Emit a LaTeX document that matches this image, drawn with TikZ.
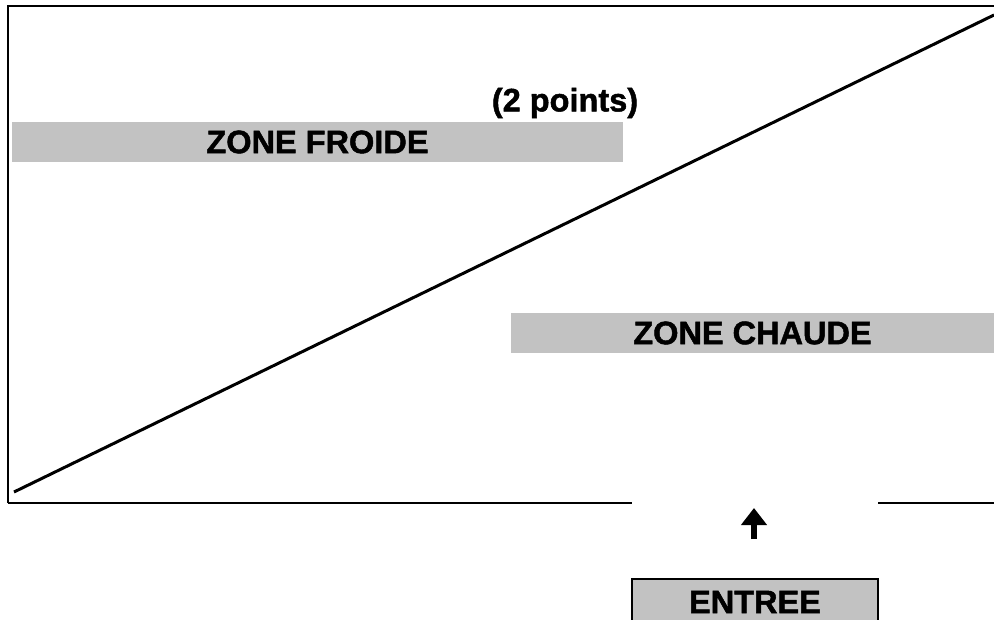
\documentclass[tikz,border=0pt]{standalone}
\usepackage{fontspec}
\setmainfont{Liberation Sans}[BoldFeatures={FakeBold=1.5}]
\usetikzlibrary{arrows.meta}
\tikzset{>={Triangle[width=25pt,length=17pt]}}
\tikzset{
    wall/.style={line width=2.6pt},
    zone/.style={fill=black!24, inner sep=0pt, minimum height=40pt,
        font=\bfseries\fontsize{32.5}{36}\selectfont},
}
\newcommand{\corner}[3]{
    \coordinate (#1) at (#2,#3);
}

\begin{document}
\begin{tikzpicture}[x=1pt,y=-1pt]
            \clip (0,0) rectangle (994,620);
            \fill[white] (0,0) rectangle (994,620);
            \corner {tl} {8} {6}
            \corner {tr} {994} {6}
            \corner {bl} {8} {503}
            \corner {gapl} {632} {503}
            \corner {gapr} {878} {503}
            \corner {br} {994} {503}
            \corner {diaga} {14} {492}
            \corner {diagb} {994} {15}
            \corner {arrowtail} {754} {539}
            \corner {arrowhead} {754} {508}
            \node[zone, minimum width=611pt] (froide) at (317.5,142) {ZONE FROIDE};
            \node[zone, minimum width=483pt] (chaude) at (752.5,333) {ZONE CHAUDE};
            \node[font=\bfseries\fontsize{32.5}{36}\selectfont] (points) at (565,103) {(2 points)};
            \node[zone, draw, line width=1.5pt, minimum width=246pt, minimum height=46pt] (entree) at (755,602) {ENTREE};
            \draw[wall] (bl) -- (tl) -- (tr);
            \draw[wall] (bl) -- (gapl);
            \draw[wall] (gapr) -- (br);
            \draw[wall, line width=3pt] (diaga) -- (diagb);
            \draw[->, line width=6pt] (arrowtail) -- (arrowhead);
        \end{tikzpicture}
\end{document}
